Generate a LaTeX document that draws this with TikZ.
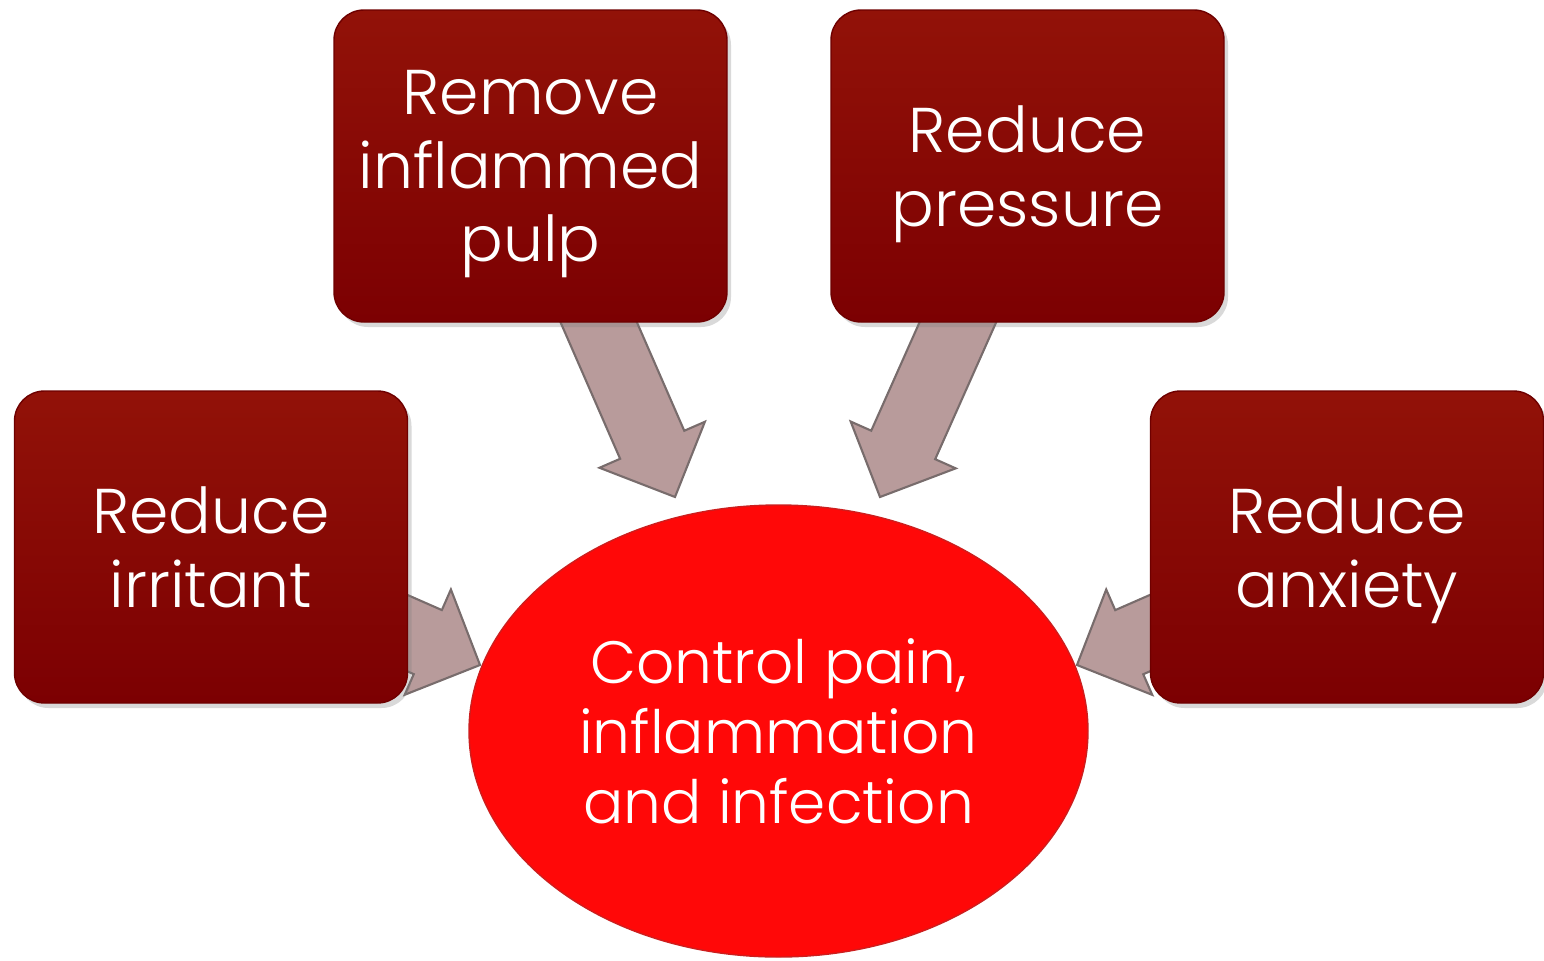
\documentclass[tikz,border=0pt]{standalone}
\usepackage{fontspec}
\IfFontExistsTF{Poppins Light}{\setmainfont{Poppins Light}}{\setmainfont{Poppins}}
\usepackage{tikz}
\usetikzlibrary{shapes.geometric,calc,backgrounds,shadows}
\definecolor{boxtop}{RGB}{146,18,8}
\definecolor{boxbot}{RGB}{124,0,2}
\definecolor{boxline}{RGB}{110,0,0}
\definecolor{goalred}{RGB}{255,8,8}
\definecolor{goalline}{RGB}{205,30,30}
\definecolor{arrfill}{RGB}{184,155,155}
\definecolor{arrline}{RGB}{120,108,108}
\tikzset{
  % Outer step box: rounded, dark red, white text
  stepbox/.style={draw=boxline, rectangle, rounded corners=0.3cm, line width=0.4pt,
                  minimum width=3.93cm, minimum height=3.12cm, align=center,
                  top color=boxtop, bottom color=boxbot, text=white,
                  font=\fontsize{18}{21}\selectfont, text depth=0pt,
                  drop shadow={shadow xshift=0.04cm, shadow yshift=-0.05cm, opacity=0.3}},
  % Central goal: red ellipse
  goal/.style={ellipse, draw=goalline, line width=0.4pt, fill=goalred,
               minimum width=6.19cm, minimum height=4.52cm, inner sep=0pt,
               align=center, text=white, font=\fontsize{17}{20}\selectfont,
               text depth=0pt},
  % Block arrow (filled polygon)
  blockarr/.style={fill=arrfill, draw=arrline, line width=0.6pt, line join=miter}
}
% Block arrow from node centre #1 to tip coordinate #2
\newcommand{\blockarrow}[2]{%
  \filldraw[blockarr] ($(#1)!0.35cm!90:(#2)$)
    -- ($(#2)!0.57cm!(#1)!0.35cm!90:(#2)$)
    -- ($(#2)!0.57cm!(#1)!0.575cm!90:(#2)$)
    -- (#2)
    -- ($(#2)!0.57cm!(#1)!0.575cm!-90:(#2)$)
    -- ($(#2)!0.57cm!(#1)!0.35cm!-90:(#2)$)
    -- ($(#1)!0.35cm!-90:(#2)$) -- cycle;}

\begin{document}
\begin{tikzpicture}
\useasboundingbox (0,0) rectangle (15.44,9.60);

% ============== Centre: goal ==============
\node[goal] (ctrl) at (7.785,2.29) {Control pain,\\inflammation\\and infection};

% ============== Outer boxes ==============
\node[stepbox] (pulp) at (5.305,7.94) {Remove\\inflammed\\pulp};
\node[stepbox] (press) at (10.275,7.94) {Reduce\\pressure};
\node[stepbox] (irr) at (2.11,4.13) {Reduce\\irritant};
\node[stepbox] (anx) at (13.47,4.13) {Reduce\\anxiety};

% ============== Arrow tips (just short of the ellipse) ==============
\coordinate (tpulp) at (6.75,4.63);
\coordinate (tpress) at (8.80,4.63);
\coordinate (tirr) at (4.80,2.95);
\coordinate (tanx) at (10.77,2.95);

% Arrows start behind the boxes
\begin{scope}[on background layer]
  \blockarrow{pulp.center}{tpulp}
  \blockarrow{press.center}{tpress}
  \blockarrow{irr.center}{tirr}
  \blockarrow{anx.center}{tanx}
\end{scope}

\end{tikzpicture}
\end{document}
